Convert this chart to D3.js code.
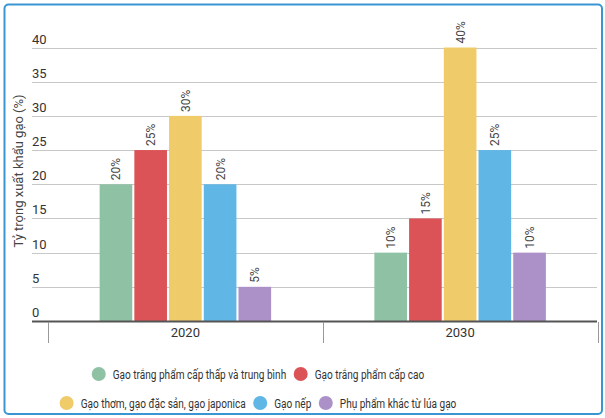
<!DOCTYPE html>
<html>
<head>
<meta charset="utf-8">
<script src="https://cdn.jsdelivr.net/npm/d3@7/dist/d3.min.js"></script>
<style>
  html, body { margin: 0; padding: 0; background: #fff; }
  svg { display: block; font-family: Roboto, "Noto Sans", sans-serif; }
</style>
</head>
<body>
<svg id="chart" width="605" height="418"></svg>
<script>
const years = ["2020", "2030"];
const seriesNames = [
  "Gạo trắng phẩm cấp thấp và trung bình",
  "Gạo trắng phẩm cấp cao",
  "Gạo thơm, gạo đặc sản, gạo japonica",
  "Gạo nếp",
  "Phụ phẩm khác từ lúa gạo"
];
const seriesColors = ["#8fc1a5", "#dc5357", "#f0cb6a", "#60b6e5", "#ac90c8"];
const values2020 = [20, 25, 30, 20, 5];
const values2030 = [10, 15, 40, 25, 10];
const yTicks = [0, 5, 10, 15, 20, 25, 30, 35, 40];
const yTitle = "Tỷ trọng xuất khẩu gạo (%)";

const valuesByYear = [values2020, values2030];
const svg = d3.select("#chart");

// frame
svg.append("rect")
  .attr("x", 4.5).attr("y", 4.5).attr("width", 597.5).attr("height", 409.5)
  .attr("rx", 4).attr("fill", "#fff").attr("stroke", "#3a96d2").attr("stroke-width", 2);

const y = d3.scaleLinear().domain([0, 40]).range([321, 47.5]);
const x0 = d3.scaleBand().domain(years).range([48, 597.5]).paddingInner(0).paddingOuter(0);
const x1 = d3.scaleBand().domain(d3.range(seriesNames.length)).range([0, 171.5]).paddingInner(0.06);

// gridlines
const grid = svg.append("g");
yTicks.forEach(t => {
  if (t === 0) return;
  grid.append("line")
    .attr("x1", 32).attr("x2", 597)
    .attr("y1", Math.round(y(t)) + 0.5).attr("y2", Math.round(y(t)) + 0.5)
    .attr("stroke", "#c8c8c8").attr("stroke-width", 1);
});
// tick labels (above gridlines, left aligned)
yTicks.forEach(t => {
  svg.append("text")
    .attr("x", 32).attr("y", y(t) - 4)
    .attr("font-size", 13).attr("fill", "#333")
    .text(t);
});

// bars
const groups = svg.append("g").selectAll("g").data(years).join("g")
  .attr("transform", d => `translate(${x0(d) + (x0.bandwidth() - 171.5) / 2},0)`);

groups.each(function(yr, gi) {
  const g = d3.select(this);
  const vals = valuesByYear[gi];
  g.selectAll("rect").data(vals).join("rect")
    .attr("x", (d, i) => x1(i))
    .attr("y", d => y(d))
    .attr("width", x1.bandwidth())
    .attr("height", d => y(0) - y(d))
    .attr("fill", (d, i) => seriesColors[i]);
  g.selectAll("text").data(vals).join("text")
    .attr("transform", (d, i) => `translate(${x1(i) + x1.bandwidth() / 2 + 4.5},${y(d) - 4}) rotate(-90)`)
    .attr("font-size", 12).attr("fill", "#444")
    .text(d => d + "%");
});

// x axis
const axis = svg.append("g");
axis.append("line")
  .attr("x1", 32).attr("x2", 597).attr("y1", 321.5).attr("y2", 321.5)
  .attr("stroke", "#555").attr("stroke-width", 2);
const sepX = [x0.range()[0], ...years.map(d => x0(d) + x0.bandwidth())];
sepX.forEach(sx => {
  axis.append("line")
    .attr("x1", Math.round(sx) + 0.5).attr("x2", Math.round(sx) + 0.5)
    .attr("y1", 322).attr("y2", 343)
    .attr("stroke", "#999").attr("stroke-width", 1);
});
years.forEach(yr => {
  axis.append("text")
    .attr("x", x0(yr) + x0.bandwidth() / 2).attr("y", 337)
    .attr("text-anchor", "middle").attr("font-size", 13).attr("fill", "#333")
    .text(yr);
});

// y title
svg.append("text")
  .attr("transform", `translate(23,171) rotate(-90)`)
  .attr("text-anchor", "middle").attr("font-size", 13).attr("fill", "#444")
  .text(yTitle);

// legend (condensed text as in the reference)
const legendRows = [[0, 1], [2, 3, 4]];
const legendY = [374, 403];
const legendCenterX = 258;
const condense = 0.775;
const legend = svg.append("g");
legendRows.forEach((row, ri) => {
  const rowG = legend.append("g");
  let cx = 0;
  row.forEach(si => {
    const item = rowG.append("g").attr("transform", `translate(${cx},0)`);
    item.append("circle").attr("cx", 7).attr("cy", 0).attr("r", 7).attr("fill", seriesColors[si]);
    const t = item.append("text")
      .attr("transform", `translate(21,4.5) scale(${condense},1)`)
      .attr("font-size", 13).attr("fill", "#333").text(seriesNames[si]);
    const w = t.node().getComputedTextLength() * condense;
    cx += 21 + w + 7.5;
  });
  const total = cx - 7.5;
  rowG.attr("transform", `translate(${legendCenterX - total / 2},${legendY[ri]})`);
});
</script>
</body>
</html>
